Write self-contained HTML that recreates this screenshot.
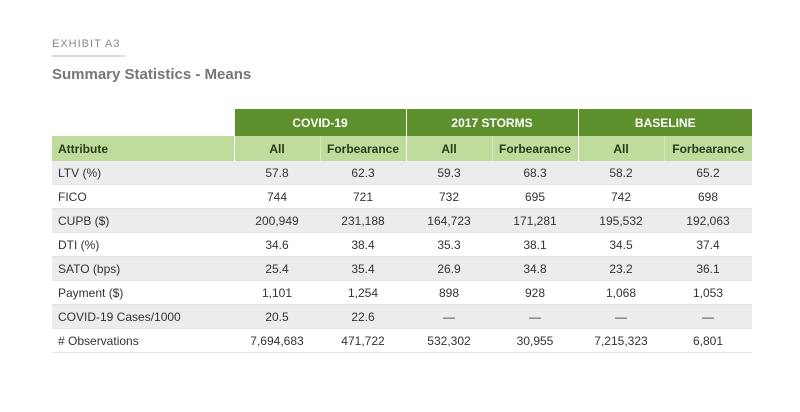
<!DOCTYPE html>
<html><head><meta charset="utf-8"><style>
body{margin:0;width:800px;height:412px;background:#fff;font-family:"Liberation Sans",sans-serif;position:relative;overflow:hidden}
.ex{position:absolute;left:52px;top:38px;font-size:11px;letter-spacing:1px;color:#8a8a8a}
.ul{position:absolute;left:52px;top:55px;width:73px;height:2px;background:#ddd}
.ttl{position:absolute;left:52px;top:66px;font-size:15px;font-weight:bold;color:#767676}
table{position:absolute;left:52px;top:109px;width:700px;border-collapse:collapse;font-size:12px;color:#333}
td,th{padding:0;text-align:center}
th{font-family:"Liberation Sans Narrow","Liberation Sans",sans-serif;font-weight:bold;font-size:12px}
tr.g th{background:#5e902d;color:#fff;height:27px}
tr.g th.e{background:#fff}
tr.s th{background:#bfdc9d;color:#2b3a1c;height:25px}
tr.g th+th,tr.s th:nth-child(2n){border-left:1px solid #fff}
tr.s th:nth-child(2n+1){border-left:1px solid #d6e9c2}
tr.s th:first-child{text-align:left;padding-left:6px;border-left:none}
tr.d td{height:23px;border-bottom:1px solid #e4e4e4}
tr.d td:first-child{text-align:left;padding-left:6px}
tr.d:nth-child(odd) td{background:#ececee}
</style></head><body>
<div class="ex">EXHIBIT A3</div>
<div class="ul"></div>
<div class="ttl">Summary Statistics - Means</div>
<table>
<colgroup><col style="width:182px"><col style="width:86px"><col style="width:86px"><col style="width:86px"><col style="width:86px"><col style="width:86px"><col style="width:88px"></colgroup>
<thead>
<tr class="g"><th class="e"></th><th colspan="2">COVID-19</th><th colspan="2">2017 STORMS</th><th colspan="2">BASELINE</th></tr>
<tr class="s"><th>Attribute</th><th>All</th><th>Forbearance</th><th>All</th><th>Forbearance</th><th>All</th><th>Forbearance</th></tr>
</thead>
<tbody>
<tr class="d"><td>LTV (%)</td><td>57.8</td><td>62.3</td><td>59.3</td><td>68.3</td><td>58.2</td><td>65.2</td></tr>
<tr class="d"><td>FICO</td><td>744</td><td>721</td><td>732</td><td>695</td><td>742</td><td>698</td></tr>
<tr class="d"><td>CUPB ($)</td><td>200,949</td><td>231,188</td><td>164,723</td><td>171,281</td><td>195,532</td><td>192,063</td></tr>
<tr class="d"><td>DTI (%)</td><td>34.6</td><td>38.4</td><td>35.3</td><td>38.1</td><td>34.5</td><td>37.4</td></tr>
<tr class="d"><td>SATO (bps)</td><td>25.4</td><td>35.4</td><td>26.9</td><td>34.8</td><td>23.2</td><td>36.1</td></tr>
<tr class="d"><td>Payment ($)</td><td>1,101</td><td>1,254</td><td>898</td><td>928</td><td>1,068</td><td>1,053</td></tr>
<tr class="d"><td>COVID-19 Cases/1000</td><td>20.5</td><td>22.6</td><td>—</td><td>—</td><td>—</td><td>—</td></tr>
<tr class="d"><td># Observations</td><td>7,694,683</td><td>471,722</td><td>532,302</td><td>30,955</td><td>7,215,323</td><td>6,801</td></tr>
</tbody></table>
</body></html>
